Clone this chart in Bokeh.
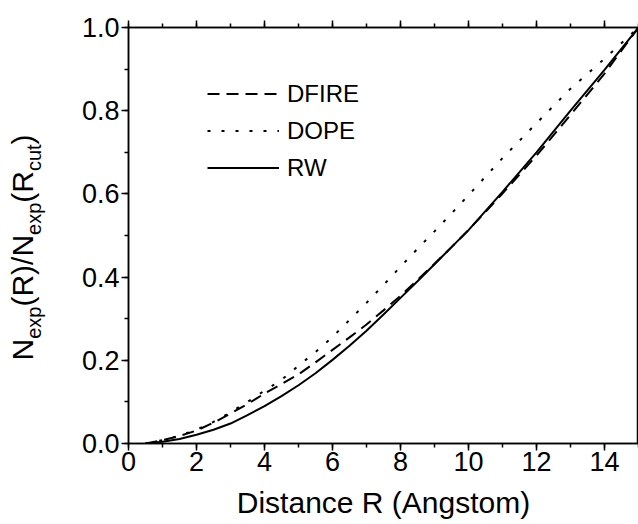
import math
from bokeh.plotting import figure
from bokeh.layouts import row
from bokeh.models import (Range1d, SingleIntervalTicker, LinearAxis, Legend,
                          LegendItem, Label, PrintfTickFormatter,
                          CustomJSTickFormatter)
from bokeh.embed import file_html
from bokeh.resources import INLINE

# ---- data ----
R = [0.5, 1.0, 1.5, 2.0, 2.5, 3.0, 3.5, 4.0, 4.5, 5.0, 5.5, 6.0, 6.5, 7.0,
     7.5, 8.0, 8.5, 9.0, 9.5, 10.0, 11.0, 12.0, 13.0, 14.0, 15.0]
rw = [0.0, 0.004, 0.011, 0.021, 0.033, 0.048, 0.068, 0.090, 0.114, 0.140,
      0.169, 0.201, 0.235, 0.271, 0.310, 0.350, 0.390, 0.431, 0.472, 0.513,
      0.605, 0.700, 0.800, 0.898, 1.0]
dfire = [0.0, 0.008, 0.018, 0.031, 0.050, 0.072, 0.095, 0.120, 0.143, 0.166,
         0.195, 0.225, 0.255, 0.286, 0.320, 0.355, 0.393, 0.432, 0.472, 0.513,
         0.601, 0.692, 0.790, 0.889, 1.0]
dope = [0.0, 0.008, 0.019, 0.033, 0.052, 0.075, 0.100, 0.127, 0.153, 0.187,
        0.220, 0.256, 0.297, 0.338, 0.381, 0.425, 0.468, 0.510, 0.553, 0.597,
        0.686, 0.770, 0.853, 0.925, 1.0]
series_names = ["DFIRE", "DOPE", "RW"]
x_label = "Distance R (Angstom)"
# y-axis label N_exp(R)/N_exp(R_cut) split into normal / subscript pieces
y_label_pieces = [("N", False), ("exp", True), ("(R)/N", False), ("exp", True),
                  ("(R", False), ("cut", True), (")", False)]

FONT = "Liberation Sans"
LW = 60          # width of the strip holding the y-axis label
H = 524

# ---- label strip (a frame-only figure so the text is not clipped) ----
q = figure(width=LW, height=H, output_backend="svg", toolbar_location=None,
           x_range=Range1d(0, 1), y_range=Range1d(0, 1), min_border=0,
           min_border_left=0, min_border_right=0, min_border_top=0,
           min_border_bottom=0, x_axis_location=None, y_axis_location=None)
q.xgrid.visible = False
q.ygrid.visible = False
q.outline_line_color = None
q.background_fill_color = "white"
q.border_fill_color = "white"

F, f = 30, 20
adv = {"N": 0.722, "e": 0.556, "x": 0.5, "p": 0.556, "(": 0.333,
       "R": 0.722, ")": 0.333, "/": 0.278, "c": 0.5, "u": 0.556, "t": 0.278}
pos = 83.0       # measured from the bottom of the (row-aligned) frame
base_x = 22
for txt, is_sub in y_label_pieces:
    size = f if is_sub else F
    shift = 11 if is_sub else 0
    q.add_layout(Label(x=base_x + shift, y=pos, x_units="screen",
                       y_units="screen", text=txt, angle=math.pi / 2,
                       text_align="left", text_baseline="alphabetic",
                       text_font=FONT, text_font_size="%dpx" % size,
                       text_color="black"))
    pos += sum(adv[c] for c in txt) * size

# ---- main plot ----
p = figure(width=638 - LW, height=H, output_backend="svg",
           toolbar_location=None,
           x_range=Range1d(0, 15), y_range=Range1d(0, 1.0),
           min_border_left=128 - LW, min_border_right=0, min_border_top=27,
           min_border_bottom=81, x_axis_location=None, y_axis_location=None)
p.xgrid.visible = False
p.ygrid.visible = False
p.outline_line_color = "black"
p.outline_line_width = 1.5
p.background_fill_color = "white"
p.border_fill_color = "white"

xt = SingleIntervalTicker(interval=2, num_minor_ticks=2)
yt = SingleIntervalTicker(interval=0.2, num_minor_ticks=2)


def style_axis(ax):
    ax.axis_line_color = "black"
    ax.axis_line_width = 1.5
    ax.major_tick_line_color = "black"
    ax.minor_tick_line_color = "black"
    ax.major_tick_line_width = 1.5
    ax.minor_tick_line_width = 1.5
    ax.major_tick_in = 0
    ax.major_tick_out = 7
    ax.minor_tick_in = 0
    ax.minor_tick_out = 4
    ax.major_label_text_font = FONT
    ax.major_label_text_font_size = "27px"
    ax.major_label_text_color = "black"


bottom = LinearAxis(ticker=xt, axis_label=x_label)
style_axis(bottom)
bottom.major_label_standoff = 1
bottom.axis_label_standoff = 12
bottom.axis_label_text_font = FONT
bottom.axis_label_text_font_size = "30px"
bottom.axis_label_text_font_style = "normal"
bottom.axis_label_text_color = "black"
p.add_layout(bottom, "below")

top = LinearAxis(ticker=xt, formatter=CustomJSTickFormatter(code="return ''"))
style_axis(top)
top.major_label_standoff = 0
p.add_layout(top, "above")

left = LinearAxis(ticker=yt, formatter=PrintfTickFormatter(format="%.1f"))
style_axis(left)
left.major_label_standoff = 2
p.add_layout(left, "left")

r_dfire = p.line(R, dfire, line_color="black", line_width=2, line_dash="12 7")
r_dope = p.line(R, dope, line_color="black", line_width=2, line_dash="3 11")
r_rw = p.line(R, rw, line_color="black", line_width=2)

legend = Legend(items=[LegendItem(label=series_names[0], renderers=[r_dfire]),
                       LegendItem(label=series_names[1], renderers=[r_dope]),
                       LegendItem(label=series_names[2], renderers=[r_rw])],
                location=(79, 257), glyph_width=72, glyph_height=37,
                label_height=37, spacing=0, padding=0, margin=0,
                label_standoff=8, label_text_font=FONT,
                label_text_color="black",
                label_text_font_size="24px", label_text_baseline="middle",
                background_fill_alpha=0, border_line_alpha=0)
p.add_layout(legend, "center")

layout = row(q, p, spacing=0)
open("out.html", "w").write(file_html(layout, INLINE))
